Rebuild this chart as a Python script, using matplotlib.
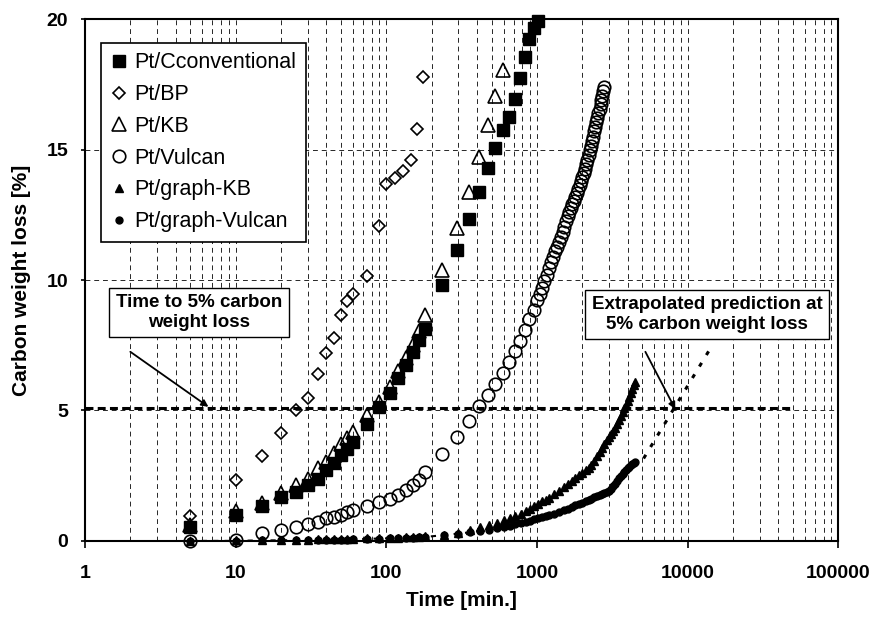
import matplotlib
matplotlib.use("Agg")
import matplotlib.pyplot as plt
from matplotlib.ticker import NullFormatter, LogLocator

plt.rcParams['font.family'] = ['Liberation Sans', 'DejaVu Sans']

# Data (time in min, carbon weight loss in %)
conv_x = [5, 10, 15, 20, 25, 30, 35, 40, 45, 50, 55, 60, 75, 90, 105, 120, 135, 150, 165, 180,
          235, 295, 352, 414, 473, 530, 591, 655, 710, 768, 828, 889, 949, 1009]
conv_y = [0.54, 0.99, 1.33, 1.69, 1.88, 2.14, 2.39, 2.71, 2.97, 3.29, 3.54, 3.8, 4.5, 5.14, 5.67, 6.23, 6.74, 7.25, 7.72, 8.14,
          9.8, 11.15, 12.36, 13.38, 14.3, 15.08, 15.75, 16.26, 16.96, 17.73, 18.54, 19.26, 19.65, 19.94]

bp_x = [5, 10, 15, 20, 25, 30, 35, 40, 45, 50, 55, 60, 75, 90, 100, 115, 130, 145, 160, 175]
bp_y = [0.95, 2.33, 3.25, 4.14, 5.0, 5.48, 6.39, 7.21, 7.78, 8.65, 9.2, 9.45, 10.16, 12.07, 13.68, 13.93, 14.19, 14.62, 15.81, 17.79]

kb_x = [5, 10, 15, 20, 25, 30, 35, 40, 45, 50, 55, 60, 75, 90, 105, 120, 135, 150, 165, 180,
        235, 295, 352, 414, 473, 530, 591]
kb_y = [0.6, 1.15, 1.44, 1.82, 2.14, 2.39, 2.78, 3.03, 3.37, 3.73, 3.95, 4.18, 4.82, 5.33, 5.9, 6.5, 7.0, 7.5, 8.05, 8.65,
        10.38, 11.98, 13.38, 14.72, 15.94, 17.05, 18.05]

vul_x = [5, 10, 15, 20, 25, 30, 35, 40, 45, 50, 55, 60, 75, 90, 105, 120, 135, 150, 165, 180,
         235, 295, 352, 414, 473, 530, 591, 655, 710, 768, 828, 889, 949,
         1000, 1040, 1080, 1120, 1160, 1200, 1240, 1280, 1320, 1360, 1400, 1440, 1480, 1520, 1560, 1600,
         1640, 1680, 1720, 1760, 1800, 1840, 1880, 1920, 1960, 2000, 2040, 2080, 2120, 2160, 2200, 2240,
         2280, 2320, 2360, 2400, 2440, 2480, 2520, 2560, 2600, 2640, 2680, 2720, 2760, 2800]
vul_y = [0.0, 0.05, 0.31, 0.4, 0.54, 0.64, 0.73, 0.86, 0.92, 0.98, 1.11, 1.18, 1.33, 1.5, 1.62, 1.75, 1.94, 2.14, 2.35, 2.65,
         3.35, 3.99, 4.6, 5.16, 5.59, 6.03, 6.44, 6.86, 7.27, 7.67, 8.08, 8.49, 8.85,
         9.23, 9.45, 9.7, 9.95, 10.2, 10.45, 10.7, 10.9, 11.1, 11.25, 11.45, 11.65, 11.85, 12.05, 12.25, 12.45,
         12.6, 12.75, 12.9, 13.05, 13.2, 13.35, 13.5, 13.65, 13.8, 13.95, 14.1, 14.25, 14.45, 14.6, 14.8, 15.0,
         15.15, 15.35, 15.5, 15.7, 15.85, 16.05, 16.2, 16.4, 16.55, 16.75, 16.9, 17.05, 17.25, 17.4]

graph_x = [5, 10, 15, 20, 25, 30, 35, 40, 45, 50, 55, 60, 75, 90, 105, 120, 135, 150, 165, 180,
           240, 300, 360, 420, 480, 540, 600, 660, 720, 780, 840, 900, 960, 1020, 1080, 1140, 1200,
           1300, 1400, 1500, 1600, 1700, 1800, 1900, 2000, 2100, 2200, 2300, 2400, 2500, 2600, 2700,
           2800, 2900, 3000, 3100, 3200, 3300, 3400, 3500, 3600, 3700, 3800, 3900, 4000, 4100, 4200,
           4300, 4400, 4500]
gkb_y = [0.0, 0.02, 0.03, 0.04, 0.05, 0.05, 0.06, 0.06, 0.07, 0.07, 0.08, 0.08, 0.1, 0.11, 0.12, 0.13, 0.14, 0.15, 0.16, 0.17,
         0.24, 0.31, 0.4, 0.55, 0.62, 0.7, 0.8, 0.88, 0.96, 1.04, 1.13, 1.22, 1.32, 1.42, 1.52, 1.58, 1.65,
         1.78, 1.92, 2.05, 2.2, 2.3, 2.42, 2.52, 2.62, 2.72, 2.8, 2.92, 3.08, 3.24, 3.4, 3.55,
         3.7, 3.85, 3.98, 4.08, 4.2, 4.34, 4.48, 4.62, 4.78, 4.93, 5.08, 5.22, 5.37, 5.52, 5.67,
         5.82, 5.97, 6.1]
gv_y = [0.0, 0.0, 0.02, 0.02, 0.03, 0.03, 0.04, 0.04, 0.05, 0.05, 0.05, 0.06, 0.08, 0.09, 0.1, 0.11, 0.12, 0.13, 0.14, 0.15,
        0.22, 0.28, 0.33, 0.38, 0.43, 0.48, 0.53, 0.58, 0.63, 0.68, 0.73, 0.78, 0.83, 0.87, 0.91, 0.95, 0.99,
        1.05, 1.11, 1.17, 1.24, 1.3, 1.36, 1.42, 1.47, 1.52, 1.57, 1.62, 1.67, 1.72, 1.77, 1.81,
        1.85, 1.89, 1.93, 2.0, 2.1, 2.2, 2.3, 2.4, 2.5, 2.58, 2.65, 2.72, 2.78, 2.84, 2.9,
        2.95, 3.0, 3.03]

# 5% reference line and extrapolation of Pt/graph-Vulcan
ref_x = [1, 48000]
ref_y = [5.1, 5.1]
extrap_x = [5100, 14150]
extrap_y = [3.16, 7.38]

fig = plt.figure(figsize=(8.76, 6.21), dpi=100)
ax = fig.add_axes([0.097, 0.129, 0.860, 0.840])

ax.set_xscale('log')
ax.set_xlim(1, 100000)
ax.set_ylim(0, 20)

# grid
ax.xaxis.set_minor_locator(LogLocator(base=10, subs=range(2, 10)))
ax.xaxis.set_minor_formatter(NullFormatter())
ax.set_yticks([0, 5, 10, 15, 20])
ax.grid(True, which='both', axis='x', color='0.15', lw=0.7, ls=(0, (5, 4)))
ax.grid(True, which='major', axis='y', color='0.15', lw=0.7, ls=(0, (5, 4)))
ax.set_axisbelow(True)

ax.plot(ref_x, ref_y, color='black', lw=2.2, ls=(0, (2.6, 1.4)), zorder=2)
ax.plot(extrap_x, extrap_y, color='black', lw=2.2, ls=(0, (1.4, 3.0)), zorder=2)

ax.plot(graph_x, gv_y, color='black', lw=1.5, ls=(0, (2.5, 3)), zorder=2)

ax.plot(conv_x, conv_y, 's', ms=8.5, mfc='black', mec='black', ls='none',
        label='Pt/Cconventional', clip_on=False, zorder=4)
ax.plot(bp_x, bp_y, 'D', ms=6.3, mfc='none', mec='black', mew=1.2, ls='none',
        label='Pt/BP', clip_on=False, zorder=4)
ax.plot(kb_x, kb_y, '^', ms=10, mfc='none', mec='black', mew=1.2, ls='none',
        label='Pt/KB', clip_on=False, zorder=3)
ax.plot(vul_x, vul_y, 'o', ms=9, mfc='none', mec='black', mew=1.2, ls='none',
        label='Pt/Vulcan', clip_on=False, zorder=4)
ax.plot(graph_x, gkb_y, '^', ms=5.5, mfc='black', mec='black', ls='none',
        label='Pt/graph-KB', clip_on=False, zorder=4)
ax.plot(graph_x, gv_y, 'o', ms=5, mfc='black', mec='black', ls='none',
        label='Pt/graph-Vulcan', clip_on=False, zorder=4)

# ticks
ax.set_xticks([1, 10, 100, 1000, 10000, 100000])
ax.set_xticklabels(['1', '10', '100', '1000', '10000', '100000'])
ax.tick_params(axis='x', which='major', direction='out', length=5, width=1.2,
               labelsize=14, pad=12)
ax.tick_params(axis='y', which='major', direction='out', length=3, width=1.2,
               labelsize=14, pad=9)
ax.tick_params(axis='x', which='minor', length=0)
for lab in ax.get_xticklabels() + ax.get_yticklabels():
    lab.set_fontweight('bold')
for sp in ax.spines.values():
    sp.set_linewidth(1.5)

ax.set_xlabel('Time [min.]', fontsize=15, fontweight='bold')
ax.set_ylabel('Carbon weight loss [%]', fontsize=15, fontweight='bold')
ax.xaxis.set_label_coords(0.5, -0.097)
ax.yaxis.set_label_coords(-0.072, 0.5)

leg = ax.legend(loc='upper left', bbox_to_anchor=(0.021, 0.955), fontsize=15.5,
                frameon=True, fancybox=False, edgecolor='black', framealpha=1,
                handlelength=0.8, handletextpad=0.3, labelspacing=0.5,
                borderpad=0.45, borderaxespad=0)
leg.get_frame().set_linewidth(1.2)
leg.set_zorder(6)

box = dict(boxstyle='square,pad=0.35', fc='white', ec='black', lw=1.0)
ax.text(0.1515, 0.438, 'Time to 5% carbon\nweight loss', transform=ax.transAxes,
        ha='center', va='center', fontsize=13.5, fontweight='bold', bbox=box,
        linespacing=1.2, zorder=6)
ax.text(0.8257, 0.434, 'Extrapolated prediction at\n5% carbon weight loss', transform=ax.transAxes,
        ha='center', va='center', fontsize=13.5, fontweight='bold', bbox=box,
        linespacing=1.2, zorder=6)

arrow = dict(arrowstyle='-|>', color='black', lw=1.3, mutation_scale=10, shrinkA=0, shrinkB=0)
ax.annotate('', xy=(6.6, 5.14), xytext=(2.0, 7.25), arrowprops=arrow, zorder=6)
ax.annotate('', xy=(8280, 5.05), xytext=(5240, 7.25), arrowprops=arrow, zorder=6)

fig.savefig('out.png', dpi=100)
